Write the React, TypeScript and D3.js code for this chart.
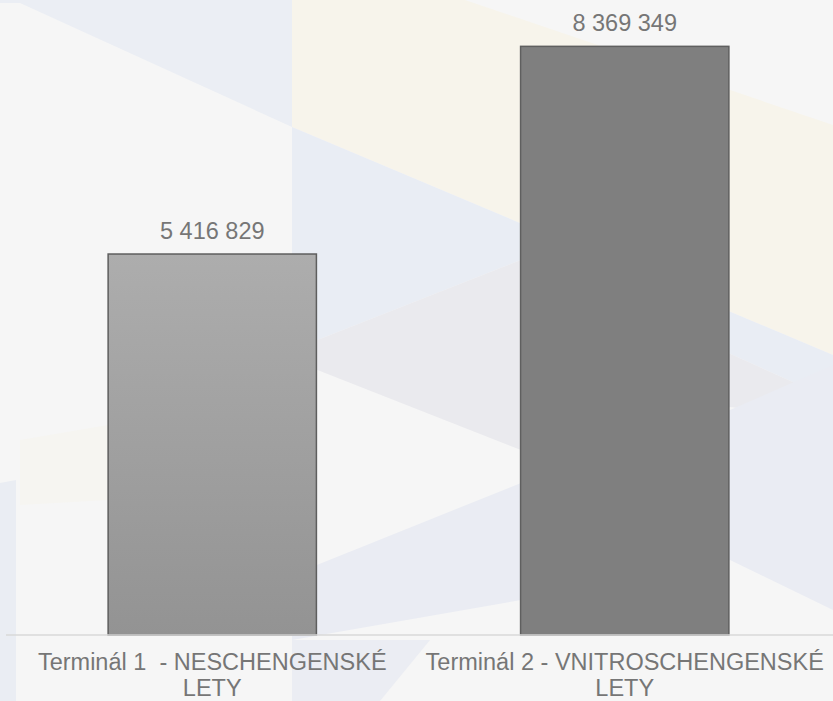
import React, { useEffect } from "react";
import * as d3 from "d3";

// ---- data ----
const categories: string[] = [
  "Terminál 1  - NESCHENGENSKÉ|LETY",
  "Terminál 2 - VNITROSCHENGENSKÉ|LETY",
];
const values: number[] = [5416829, 8369349];
const valueLabels: string[] = ["5 416 829", "8 369 349"];
const yDomainMax = 9000000;

// ---- layout / style ----
const W = 833;
const H = 701;
const baseY = 635;
const FONT = "'Liberation Sans', Arial, sans-serif";
const TEXT = "#767676";

// decorative faint background polygons
const bgPolys: { pts: [number, number][]; fill: string }[] = [
  { pts: [[0, 0], [292, 0], [292, 127], [20, 3], [0, 3]], fill: "#ebeef4" },
  { pts: [[292, 0], [465, 0], [833, 125], [833, 355], [292, 127]], fill: "#f7f4eb" },
  { pts: [[292, 127], [833, 355], [833, 400], [521, 260], [292, 350]], fill: "#e9edf4" },
  { pts: [[292, 350], [521, 260], [833, 400], [833, 420], [730, 407], [521, 450], [292, 360]], fill: "#eaeaee" },
  { pts: [[292, 575], [521, 483], [730, 410], [833, 365], [833, 610], [730, 560], [521, 600], [292, 640]], fill: "#eaecf3" },
  { pts: [[0, 483], [16, 480], [16, 701], [0, 701]], fill: "#eaedf3" },
  { pts: [[20, 440], [108, 425], [108, 500], [20, 505]], fill: "#f6f5f1" },
  { pts: [[292, 640], [430, 640], [380, 701], [292, 701]], fill: "#ebedf3" },
];

export default function App() {
  useEffect(() => {
    document.body.style.margin = "0";
  }, []);

  const x = d3
    .scaleBand<string>()
    .domain(categories)
    .range([5, 832])
    .paddingInner(0.495)
    .paddingOuter(0.25);
  const y = d3.scaleLinear().domain([0, yDomainMax]).range([baseY, 2]);
  const line = d3.line<[number, number]>();

  return (
    <div style={{ position: "absolute", left: 0, top: 0 }}>
      <svg width={W} height={H} style={{ display: "block" }}>
        <defs>
          <linearGradient id="g1" x1="0" y1="0" x2="0" y2="1">
            <stop offset="0" stopColor="#adadad" />
            <stop offset="1" stopColor="#939393" />
          </linearGradient>
        </defs>
        <rect x={0} y={0} width={W} height={H} fill="#f6f6f6" />
        {bgPolys.map((p, i) => (
          <path key={i} d={line(p.pts) + "Z"} fill={p.fill} />
        ))}
        {categories.map((c, i) => {
          const x0 = x(c)!;
          const bw = x.bandwidth();
          const top = y(values[i]);
          return (
            <g key={c}>
              <rect
                x={x0}
                y={top}
                width={bw}
                height={baseY - top}
                fill={i === 0 ? "url(#g1)" : "#7f7f7f"}
                stroke={i === 0 ? "#5e5e5e" : "#5f5f5f"}
                strokeWidth={1.5}
              />
              <text
                x={x0 + bw / 2}
                y={top - 15.5}
                textAnchor="middle"
                fontFamily={FONT}
                fontSize={23.5}
                fill={TEXT}
              >
                {valueLabels[i]}
              </text>
            </g>
          );
        })}
        <line x1={6} x2={W} y1={baseY} y2={baseY} stroke="#d9d9d9" strokeWidth={1.5} />
        {categories.map((c) => {
          const cx = x(c)! + x.bandwidth() / 2;
          const parts = c.split("|");
          return (
            <text
              key={"l" + c}
              textAnchor="middle"
              fontFamily={FONT}
              fontSize={23.5}
              fill={TEXT}
              style={{ whiteSpace: "pre" }}
            >
              {parts.map((p, j) => (
                <tspan key={j} x={cx} y={670 + j * 26}>
                  {p}
                </tspan>
              ))}
            </text>
          );
        })}
      </svg>
    </div>
  );
}
